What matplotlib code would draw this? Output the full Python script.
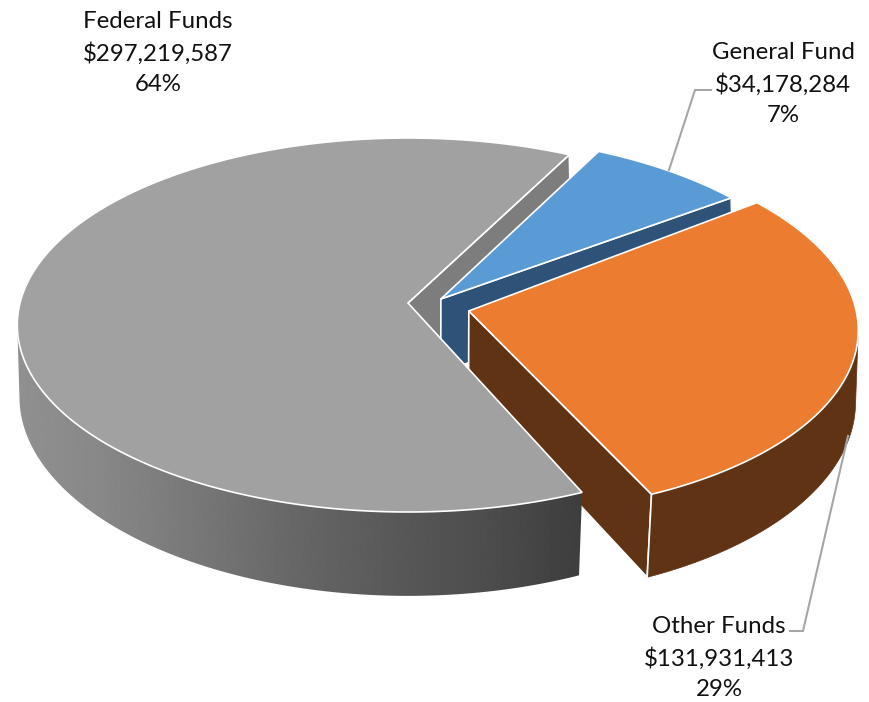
import numpy as np
import matplotlib
matplotlib.use("Agg")
import matplotlib.pyplot as plt
from matplotlib.patches import Polygon

# ---- data ----
names = ["Federal Funds", "General Fund", "Other Funds"]
amounts = [297219587, 34178284, 131931413]
amount_labels = ["$297,219,587", "$34,178,284", "$131,931,413"]
pct_labels = ["64%", "7%", "29%"]

# ---- style / geometry ----
W, H = 869, 702
top_colors = ["#a1a1a1", "#5b9bd5", "#eb7c30"]
face_colors = ["#7d7d7d", "#2f5378", "#5f3314"]
text_color = "#111111"
first_angle = 156.4           # degrees clockwise from 12 o'clock
CX, CY = 408, 303             # pie centre on the page
RX, RY = 388, 184.4           # plane scale
PERSP = 0.1177                # perspective strength
DEPTH = 74                    # extrusion
apex_off = [(0.0, 0.0), (0.085, -0.022), (0.156, 0.043)]
rim_off = [(0.0, 0.0), (0.085, -0.022), (0.165, 0.008)]
rim_ru = [1.0, 1.0, 0.985]
label_pos = [(158, 53), (783, 84), (719, 658)]
leaders = [None,
           [(669, 170), (695, 90), (711, 90)],
           [(848, 436), (803, 631), (790, 631)]]

def project(u, v, drop=False):
    w = 1 - PERSP * v
    x = RX * u / w
    y = RY * v / w
    if drop:
        shrink = 0.996 - 0.015 * v
        return CX + shrink * x, CY + y + DEPTH / w
    return CX + x, CY + y

def rim(i, theta_deg):
    t = np.radians(theta_deg)
    return rim_off[i][0] + rim_ru[i] * np.sin(t), rim_off[i][1] - np.cos(t)

fig = plt.figure(figsize=(W / 100, H / 100), dpi=100)
ax = fig.add_axes([0, 0, 1, 1])
ax.axis("off")

fracs = np.array(amounts, dtype=float) / np.sum(amounts)
spans = fracs * 360
starts = first_angle + np.concatenate([[0], np.cumsum(spans)[:-1]])

def top_poly(i):
    th = np.linspace(starts[i], starts[i] + spans[i], 240)
    x, y = project(*rim(i, th))
    return np.vstack([[project(*apex_off[i])], np.column_stack([x, y])])

def cut_face(i, theta, color, z):
    a = project(*apex_off[i])
    b = project(*rim(i, theta))
    c = project(*rim(i, theta), drop=True)
    d = project(*apex_off[i], drop=True)
    ax.add_patch(Polygon([a, b, c, d], closed=True, fc=color, ec="white", lw=1.2, zorder=z, joinstyle="round"))

def side_pts(i, th):
    x0, y0 = project(*rim(i, th))
    x1, y1 = project(*rim(i, th), drop=True)
    return np.vstack([np.column_stack([x0, y0]), np.column_stack([x1, y1])[::-1]])

def visible_arc(i, n=600):
    """Part of the outer wall that faces the viewer: up to the rim's horizontal extreme."""
    th = np.linspace(starts[i], starts[i] + spans[i], n)
    x, _ = project(*rim(i, th))
    if i == 0:
        k = int(np.argmin(x))
        return th[:k + 1]
    k = int(np.argmax(x))
    return th[k:]

# Federal back cut face, furthest back
cut_face(0, starts[0] + spans[0], face_colors[0], 1)

# General Fund
cut_face(1, starts[1] + spans[1], face_colors[1], 2)
ax.add_patch(Polygon(top_poly(1), closed=True, fc=top_colors[1], ec="white", lw=1.2, zorder=3))

# Other Funds
cut_face(2, starts[2] + spans[2], face_colors[2], 4)
ax.add_patch(Polygon(side_pts(2, visible_arc(2)), closed=True, fc=face_colors[2], ec=face_colors[2], lw=0.5, zorder=5))
a = project(*rim(2, starts[2] + spans[2]))
b = project(*rim(2, starts[2] + spans[2]), drop=True)
ax.plot([a[0], b[0]], [a[1], b[1]], color="white", lw=1.2, zorder=5.5)
ax.add_patch(Polygon(top_poly(2), closed=True, fc=top_colors[2], ec="white", lw=1.2, zorder=6))

# Federal Funds front: shaded side, clipped from a horizontal gradient
clip = Polygon(side_pts(0, visible_arc(0)), closed=True, fc="none", ec="none", transform=ax.transData)
ax.add_patch(clip)
grad_x = [20, 100, 200, 300, 400, 500, 578]
grad_v = [144, 136, 119, 102, 88, 75, 62]
xs_grad = np.linspace(0, W, 870)
im = ax.imshow(np.interp(xs_grad, grad_x, grad_v)[None, :], extent=[0, W, H, 0], aspect="auto",
               cmap="gray", vmin=0, vmax=255, zorder=7, interpolation="bilinear")
im.set_clip_path(clip)
ax.add_patch(Polygon(top_poly(0), closed=True, fc=top_colors[0], ec="white", lw=1.2, zorder=8))

ax.set_xlim(0, W)
ax.set_ylim(H, 0)

# leader lines
for pts in leaders:
    if pts:
        xs, ys = zip(*pts)
        ax.plot(xs, ys, color="#a6a6a6", lw=1.5, zorder=9, solid_joinstyle="miter")

# labels
for name, amt, pct, (lx, ly) in zip(names, amount_labels, pct_labels, label_pos):
    ax.text(lx, ly, f"{name}\n{amt}\n{pct}", ha="center", va="center", multialignment="center",
            fontsize=17.3, family="Lato", color=text_color, linespacing=1.57, zorder=10)

fig.savefig("out.png", dpi=100, facecolor="white")
